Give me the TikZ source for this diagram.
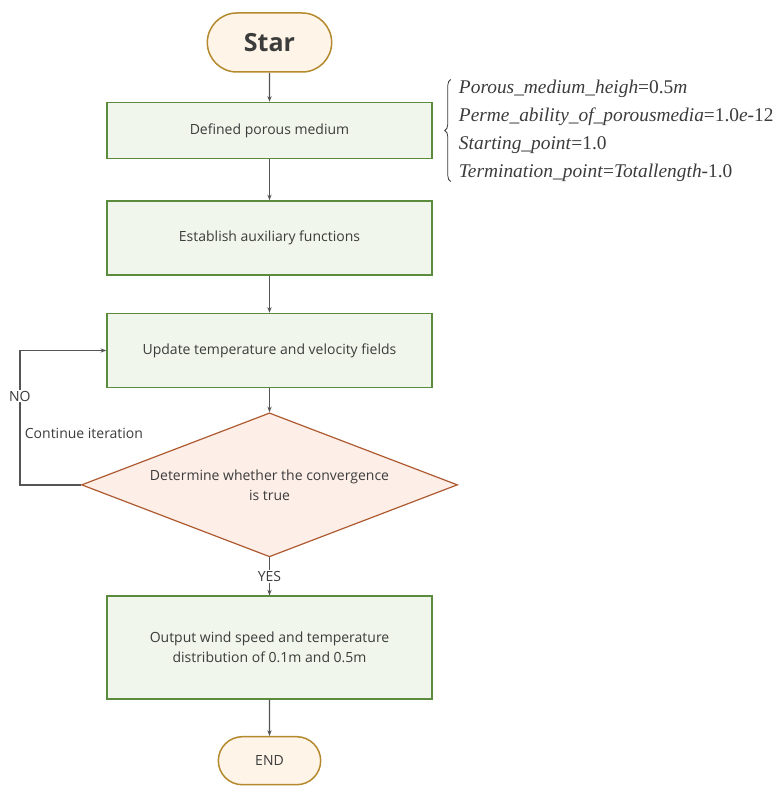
\documentclass[tikz,border=0pt]{standalone}
\usepackage{fontspec}
\setmainfont{Open Sans}
\newfontfamily\paramfont{Liberation Serif}
\usetikzlibrary{shapes.geometric, shapes.misc, arrows.meta, positioning, decorations.pathreplacing}

\definecolor{boxgreen}{HTML}{5B8C3E}
\definecolor{boxfill}{HTML}{F0F6EB}
\definecolor{decborder}{HTML}{AE5A30}
\definecolor{decfill}{HTML}{FDEEE8}
\definecolor{pillborder}{HTML}{B58A2E}
\definecolor{pillfill}{HTML}{FEF4E8}
\definecolor{linegray}{HTML}{555555}
\definecolor{textgray}{HTML}{3C3C3C}

\begin{document}
\begin{tikzpicture}[
    x=1pt, y=-1pt,
    pill/.style={rounded rectangle, draw=pillborder, fill=pillfill, line width=1.5pt,
                 text=textgray, font=\fontsize{14}{18}\selectfont},
    box/.style={rectangle, draw=boxgreen, fill=boxfill, line width=1.5pt, minimum width=325pt,
                align=center, text=textgray, font=\fontsize{14}{20}\selectfont},
    decision/.style={diamond, aspect=2.6, draw=decborder, fill=decfill, line width=1.2pt,
                     minimum width=376pt, minimum height=144pt, inner sep=0pt,
                     align=center, text=textgray, font=\fontsize{14}{20}\selectfont},
    arrow/.style={-{Stealth[length=2mm]}, draw=linegray, line width=1.3pt},
    tag/.style={text=textgray, font=\fontsize{14}{16}\selectfont},
    brace/.style={decorate, decoration={brace, amplitude=6pt}, draw=textgray, line width=0.8pt},
]
\fill[white] (0,0) rectangle (777,786);
\useasboundingbox (0,0) rectangle (777,786);

\node[pill, minimum width=131pt, minimum height=59pt,
      font=\bfseries\fontsize{25}{30}\selectfont] (start) at (269.5,42.5) {Star};
\node[box, minimum height=56pt, below=29pt of start] (define) {Defined porous medium};
\node[box, minimum height=74pt, below=41pt of define] (auxfun) {Establish auxiliary functions};
\node[box, minimum height=74pt, below=37pt of auxfun] (update) {Update temperature and velocity fields};
\node[decision, below=24pt of update] (converge) {Determine whether the convergence\\is true};
\node[box, minimum height=103pt, below=38pt of converge] (output)
     {Output wind speed and temperature\\distribution of 0.1m and 0.5m};
\node[pill, minimum width=109pt, minimum height=48pt, below=36pt of output] (finish) {END};

% parameters of the porous medium
\node[right=26pt of define, inner sep=0pt, align=left, text=textgray,
      font=\paramfont\fontsize{19.4}{28}\selectfont] (params)
     {\textit{Porous\_medium\_heigh}=0.5\textit{m}\\
      \textit{Perme\_ability\_of\_porousmedia}=1.0\textit{e}-12\\
      \textit{Starting\_point}=1.0\\
      \textit{Termination\_point}=\textit{Totallength}-1.0};
\draw[brace] ([xshift=-8pt]params.south west) -- ([xshift=-8pt]params.north west);

\draw[arrow] (start) -- (define);
\draw[arrow] (define) -- (auxfun);
\draw[arrow] (auxfun) -- (update);
\draw[arrow] (update) -- (converge);
\draw[arrow] (converge) -- node[tag, fill=white, inner sep=1pt] {YES} (output);
\draw[arrow] (output) -- (finish);

\coordinate[left=61pt of converge.west] (loopturn);
\draw[arrow] (converge.west) -- (loopturn)
    |- node[tag, pos=0.33, fill=white, inner sep=1pt] {NO}
       node[tag, pos=0.19, right, xshift=1pt] {Continue iteration} (update.west);
\end{tikzpicture}
\end{document}
